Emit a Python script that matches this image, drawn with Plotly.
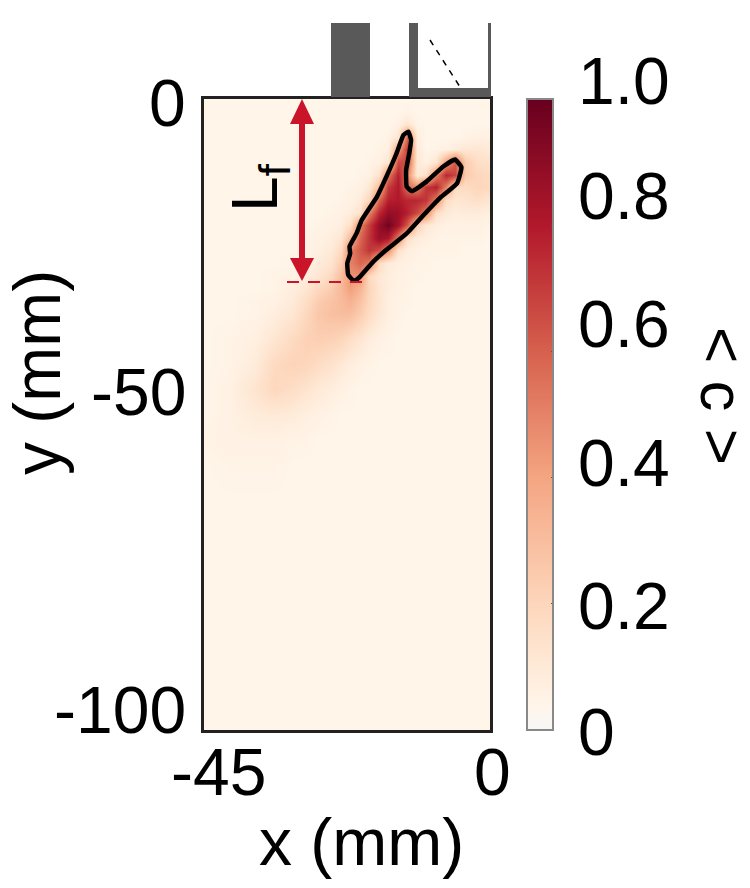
import numpy as np
import plotly.graph_objects as go

# Mean progress variable field (hundredths of <c>)
x_mm = [-45,-41,-37,-34,-31,-29,-27,-25,-23.5,-22,-20.5,-19,-17.5,-16,-14.5,-13,-11.5,-10,-8.5,-7,-5.5,-4,-2,0]
y_mm = [0,-2,-4,-6,-8,-10,-12,-14,-16,-18,-20,-22,-24,-26,-28,-30,-32,-34,-38,-42,-46,-50,-54,-58,-64,-70,-100]
c_rows = [
 [4,4,4,4,4,4,4,4,4,4,4,4,4,4,4,4,4,4,4,4,4,4,4,4],
 [4,4,4,4,4,4,4,4,4,4,4,4,4,4,4,5,4,4,4,4,4,4,4,4],
 [4,4,4,4,4,4,4,4,4,4,4,4,4,4,6,12,5,4,4,4,4,4,4,4],
 [4,4,4,4,4,4,4,4,4,4,4,4,4,5,12,58,8,4,4,4,4,5,6,7],
 [4,4,4,4,4,4,4,4,4,4,4,4,5,7,40,70,10,4,5,6,9,11,12,10],
 [4,4,4,4,4,4,4,4,4,4,4,5,6,12,66,66,10,6,12,42,62,25,16,14],
 [4,4,4,4,4,4,4,4,4,4,5,6,14,52,78,50,10,16,50,76,68,25,20,17],
 [4,4,4,4,4,4,4,4,4,5,6,11,32,70,80,56,50,72,78,50,18,17,20,18],
 [4,4,4,4,4,4,4,4,5,6,9,20,58,78,80,76,76,72,50,16,12,13,15,12],
 [4,4,4,4,4,4,4,5,6,8,14,50,76,88,86,78,66,50,15,10,8,9,9,7],
 [4,4,4,4,4,4,5,6,8,15,50,70,88,97,84,62,22,11,8,6,6,6,6,5],
 [4,4,4,4,4,5,6,8,12,32,58,72,86,82,50,15,9,7,5,5,5,5,5,4],
 [4,4,4,4,4,5,7,10,18,50,62,72,65,48,14,8,6,5,5,5,5,4,4,4],
 [4,4,4,4,5,6,9,13,24,50,58,52,17,9,7,6,5,5,4,4,4,4,4,4],
 [4,4,4,5,6,8,12,18,30,46,46,18,11,8,6,5,5,4,4,4,4,4,4,4],
 [4,4,4,5,8,12,18,24,32,42,34,20,12,8,6,5,4,4,4,4,4,4,4,4],
 [4,4,5,6,10,16,24,28,31,35,28,19,12,7,5,5,4,4,4,4,4,4,4,4],
 [4,4,5,8,12,19,26,29,30,30,24,17,11,7,5,4,4,4,4,4,4,4,4,4],
 [4,5,7,12,18,22,23,22,20,16,12,8,6,5,4,4,4,4,4,4,4,4,4,4],
 [4,5,9,18,21,20,17,14,11,8,6,5,4,4,4,4,4,4,4,4,4,4,4,4],
 [4,6,13,19,16,13,10,8,6,5,4,4,4,4,4,4,4,4,4,4,4,4,4,4],
 [4,6,9,10,9,7,6,5,4,4,4,4,4,4,4,4,4,4,4,4,4,4,4,4],
 [5,6,6,6,5,5,4,4,4,4,4,4,4,4,4,4,4,4,4,4,4,4,4,4],
 [4,5,5,5,4,4,4,4,4,4,4,4,4,4,4,4,4,4,4,4,4,4,4,4],
 [4,4,4,4,4,4,4,4,4,4,4,4,4,4,4,4,4,4,4,4,4,4,4,4],
 [4,4,4,4,4,4,4,4,4,4,4,4,4,4,4,4,4,4,4,4,4,4,4,4],
 [4,4,4,4,4,4,4,4,4,4,4,4,4,4,4,4,4,4,4,4,4,4,4,4],
]

# Flame contour, mm
contour_x = [-12.85,-12.43,-12.7,-13.2,-13.1,-12.3,-10,-7.35,-5.5,-4.5,-5.2,-7.9,-10,-13.1,-16.3,-18.4,-20.5,-21.4,-22.3,-22.45,-22,-22.1,-21,-20.2,-17.8,-16.3,-14.7,-13.6,-12.85]
contour_y = [-5.18,-6.5,-8.6,-11.25,-13.9,-14.6,-13.1,-10.7,-9.6,-10.8,-13.4,-15.7,-17.9,-21.3,-23.9,-25.8,-28.2,-28.8,-27.9,-26,-24.5,-23.4,-21.3,-19.2,-15.5,-12.3,-8.6,-5.7,-5.18]

# Flame-length guide, mm
lf_x = [-31.94, -19.67]
lf_y = [-29, -29]

x_tick_labels = ["-45", "0"]
y_tick_labels = ["0", "-50", "-100"]
cbar_tick_labels = ["1.0", "0.8", "0.6", "0.4", "0.2", "0"]
cbar_ticks = [0.2, 0.4, 0.6, 0.8]

FONT = "Liberation Sans"
FS = 66
PAGE = 8  # the browser's default body margin
L, R, T, B = 204, 490, 99, 730
W, H = 750 - PAGE, 888 - PAGE
RED = "#c9142a"
GREY = "#595959"

def px(v):
    return (v - L) / (R - L)

def py(v):
    return (B - v) / (B - T)

colorscale = [
    [0.0, "#f7f7f7"], [0.04, "#fff5e9"], [0.12, "#fee6d2"], [0.2, "#fdd6bb"], [0.4, "#f4a582"],
    [0.6, "#d6604d"], [0.8, "#b2182b"], [1.0, "#67001f"],
]

fig = go.Figure()
fig.add_trace(go.Heatmap(
    x=x_mm, y=y_mm, z=np.array(c_rows) / 100, zmin=0, zmax=1, zsmooth="best",
    colorscale=colorscale, hoverinfo="skip",
    colorbar=dict(x=(527 - L) / (R - L), xanchor="left", xpad=0, ypad=0, y=0.5, yanchor="middle",
                  len=1, lenmode="fraction", thickness=26, thicknessmode="pixels",
                  outlinecolor="#888888", outlinewidth=2, tickmode="array", tickvals=cbar_ticks,
                  ticks="inside", ticklen=3, tickcolor="#555555", showticklabels=False),
))
fig.add_trace(go.Scatter(x=contour_x, y=contour_y, mode="lines", showlegend=False, hoverinfo="skip",
                         line=dict(color="black", width=4.5, shape="spline", smoothing=0.4)))
fig.add_trace(go.Scatter(x=lf_x, y=lf_y, mode="lines", showlegend=False, hoverinfo="skip",
                         line=dict(color=RED, width=2, dash="12px,9px")))

shapes = []
def rect(x0, y0, x1, y1, color):
    shapes.append(dict(type="rect", xref="paper", yref="paper", x0=px(x0), x1=px(x1), y0=py(y0), y1=py(y1),
                       fillcolor=color, line=dict(width=0), layer="above"))

rect(331, 23, 370, 97, GREY)
rect(409, 23, 418, 97, GREY)
rect(409, 88, 490, 97, GREY)
rect(488, 23, 491, 97, GREY)
shapes.append(dict(type="line", xref="paper", yref="paper", x0=px(430), y0=py(40), x1=px(460), y1=py(87),
                   line=dict(color="black", width=1.5, dash="6px,6px")))
# Double arrow
rect(299, 115, 305, 265, RED)
def tri(a, b, c):
    return "M %f %f L %f %f L %f %f Z" % (px(a[0]), py(a[1]), px(b[0]), py(b[1]), px(c[0]), py(c[1]))
shapes.append(dict(type="path", xref="paper", yref="paper", path=tri((302, 99), (290, 124), (314, 124)),
                   fillcolor=RED, line=dict(width=0)))
shapes.append(dict(type="path", xref="paper", yref="paper", path=tri((302, 281), (290, 258), (314, 258)),
                   fillcolor=RED, line=dict(width=0)))

def label(text, xp, yp, size=FS, angle=0, xanchor="center"):
    return dict(text=text, xref="paper", yref="paper", x=px(xp), y=py(yp), showarrow=False,
                xanchor=xanchor, yanchor="middle", textangle=angle, font=dict(family=FONT, size=size, color="black"))

ann = []
for t, xp in zip(x_tick_labels, [218, 492]):
    ann.append(label(t, xp, 772))
for t, yp in zip(y_tick_labels, [103, 392, 710]):
    ann.append(label(t, 188, yp, xanchor="right"))
for t, yp in zip(cbar_tick_labels, [81, 196, 324, 463, 606, 732]):
    ann.append(label(t, 576, yp, xanchor="left"))
ann.append(label("x (mm)", 361, 842))
ann.append(label("y (mm)", 37, 373, angle=-90))
ann.append(label("&lt; c &gt;", 722, 396, size=62, angle=90))
ann.append(label("L<sub>f</sub>", 259, 188, size=64, angle=-90))

fig.update_layout(
    width=W, height=H, autosize=False, paper_bgcolor="white", plot_bgcolor="#fff5e9",
    margin=dict(l=L - PAGE, r=W - (R - PAGE), t=T - PAGE, b=H - (B - PAGE), pad=0),
    shapes=shapes, annotations=ann, showlegend=False,
    xaxis=dict(range=[-45, 0], tickvals=[-45, 0], showticklabels=False, ticks="", showgrid=False, zeroline=False,
               showline=True, mirror=True, linecolor="#222222", linewidth=3),
    yaxis=dict(range=[-100, 0], tickvals=[0, -50, -100], showticklabels=False, ticks="", showgrid=False, zeroline=False,
               showline=True, mirror=True, linecolor="#222222", linewidth=3),
)
fig.write_html("out.html")
